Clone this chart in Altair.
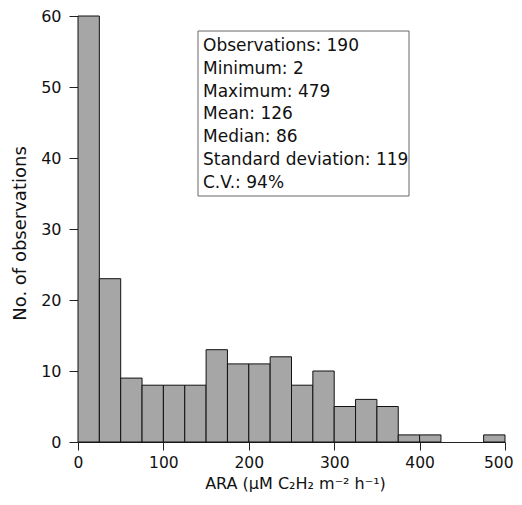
import altair as alt
import pandas as pd

# Histogram of ARA values, 25-unit bins
bin_start = [0, 25, 50, 75, 100, 125, 150, 175, 200, 225,
             250, 275, 300, 325, 350, 375, 400, 425, 450, 475]
counts = [60, 23, 9, 8, 8, 8, 13, 11, 11, 12,
          8, 10, 5, 6, 5, 1, 1, 0, 0, 1]
bin_width = 25

x_ticks = [0, 100, 200, 300, 400, 500]
y_ticks = [0, 10, 20, 30, 40, 50, 60]

stats_lines = [
    "Observations: 190",
    "Minimum: 2",
    "Maximum: 479",
    "Mean: 126",
    "Median: 86",
    "Standard deviation: 119",
    "C.V.: 94%",
]

FONT = "DejaVu Sans"

df = pd.DataFrame({
    "start": bin_start,
    "end": [s + bin_width for s in bin_start],
    "count": counts,
})
df = df[df["count"] > 0]

x_scale = alt.Scale(domain=[0, 500], nice=False, zero=False)
y_scale = alt.Scale(domain=[0, 60], nice=False)

bars = alt.Chart(df).mark_rect(
    fill="#a6a6a6", stroke="#111111", strokeWidth=1
).encode(
    x=alt.X("start:Q", scale=x_scale,
            axis=alt.Axis(values=x_ticks, title="ARA (μM C₂H₂ m⁻² h⁻¹)",
                          tickSize=8, labelPadding=5, labelFontSize=15.5,
                          labelFont=FONT, labelColor="#111111",
                          labelAlign=alt.condition("datum.value == 500",
                                                   alt.value("right"),
                                                   alt.value("center")),
                          labelOffset=alt.condition("datum.value == 500",
                                                    alt.value(8),
                                                    alt.value(0)),
                          titleFont=FONT, titleFontSize=16,
                          titleFontWeight="normal", titleColor="#111111",
                          titleX=217, titleY=46, titleBaseline="alphabetic",
                          grid=False, domainColor="#222222",
                          tickColor="#222222", labelFlush=False)),
    x2="end:Q",
    y=alt.Y("count:Q", scale=y_scale,
            axis=alt.Axis(values=y_ticks, title="No. of observations",
                          tickSize=9, labelPadding=8, labelFontSize=16,
                          labelFont=FONT, labelColor="#111111",
                          titleFont=FONT, titleFontSize=18,
                          titleFontWeight="normal", titleColor="#111111",
                          titleX=-53, titleY=217, titleAngle=-90,
                          titleBaseline="alphabetic",
                          grid=False, domainColor="#222222",
                          tickColor="#222222", labelFlush=False)),
    y2=alt.datum(0),
)

box = alt.Chart(pd.DataFrame({"k": [0]})).mark_rect(
    fill="white", stroke="#666666", strokeWidth=1
).encode(
    x=alt.value(120), x2=alt.value(331),
    y=alt.value(15), y2=alt.value(180),
)

stats = alt.Chart(pd.DataFrame({"k": [0]})).mark_text(
    align="left", baseline="alphabetic", font=FONT, fontSize=17,
    lineHeight=22.8, color="#111111"
).encode(
    x=alt.value(125), y=alt.value(35),
    text=alt.value(stats_lines),
)

chart = alt.layer(bars, box, stats).properties(
    width=427, height=426,
    padding={"left": 70, "top": 8, "right": 9, "bottom": 50},
    autosize=alt.AutoSizeParams(type="none"),
).configure_view(stroke=None)

chart.save("out.html", embed_options={"renderer": "svg", "actions": False})
